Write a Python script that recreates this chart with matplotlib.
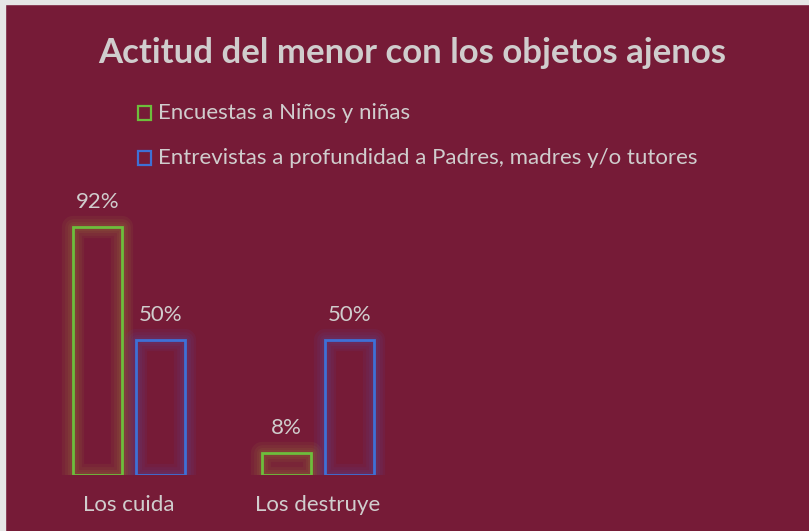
import matplotlib
matplotlib.use("Agg")
import matplotlib.pyplot as plt
import matplotlib.patheffects as pe
from matplotlib.patches import Rectangle
import numpy as np

BG = "#761B37"
TXT = "#D0CDCD"
plt.rcParams["font.family"] = ["Lato", "DejaVu Sans"]

title = "Actitud del menor con los objetos ajenos"
categories = ["Los cuida", "Los destruye"]
series_names = ["Encuestas a Niños y niñas",
                "Entrevistas a profundidad a Padres, madres y/o tutores"]
ninos = [92, 8]
padres = [50, 50]
colors = ["#6DBE3C", "#3E70D6"]
glows = ["#A8B040", "#5060C8"]

W, H = 809, 531
fig = plt.figure(figsize=(W / 100, H / 100), dpi=100)
fig.patch.set_facecolor(BG)

# light border on top and left like the original screenshot
fig.patches.append(Rectangle((0, 1 - 4 / H), 1, 4 / H, transform=fig.transFigure,
                             color="#E6E6E6", zorder=10))
fig.patches.append(Rectangle((0, 0), 5 / W, 1, transform=fig.transFigure,
                             color="#E6E6E6", zorder=10))

base = 475
ax = fig.add_axes([34.5 / W, (H - base) / H, 756 / W, 269.6 / H])
ax.set_facecolor("none")
ax.set_xlim(-0.5, 3.5)
ax.set_ylim(0, 100)
ax.axis("off")

x = np.arange(len(categories))
off, bw = 0.1667, 0.26
for vals, dx, c, g in [(ninos, -off, colors[0], glows[0]), (padres, off, colors[1], glows[1])]:
    bars = ax.bar(x + dx, vals, bw, facecolor="none", edgecolor=c, linewidth=2)
    for b in bars:
        # soft glow: several wide, faint strokes under the edge
        glow = [pe.Stroke(linewidth=lw, foreground=g, alpha=0.07, joinstyle="round")
                for lw in (16, 12, 8, 5)]
        b.set_path_effects(glow + [pe.Normal()])
    for xi, v in zip(x + dx, vals):
        ax.text(xi, v + 9.3, f"{v}%", ha="center", va="center", color=TXT, fontsize=16)

for xi, lab in zip(x, categories):
    ax.text(xi, -11.1, lab, ha="center", va="center", color=TXT, fontsize=16)

fig.text(412 / W, 1 - 53 / H, title, ha="center", va="center", color=TXT,
         fontsize=25, fontweight="bold")

# legend
for i, (name, c) in enumerate(zip(series_names, colors)):
    yc = 113 + 45 * i
    fig.patches.append(Rectangle((138 / W, 1 - (yc + 6.5) / H), 13 / W, 13 / H,
                                 transform=fig.transFigure, facecolor="none",
                                 edgecolor=c, linewidth=1.6))
    fig.text(158 / W, 1 - yc / H, name, ha="left", va="center", color=TXT, fontsize=16)

fig.savefig("out.png", dpi=100, facecolor=BG)
